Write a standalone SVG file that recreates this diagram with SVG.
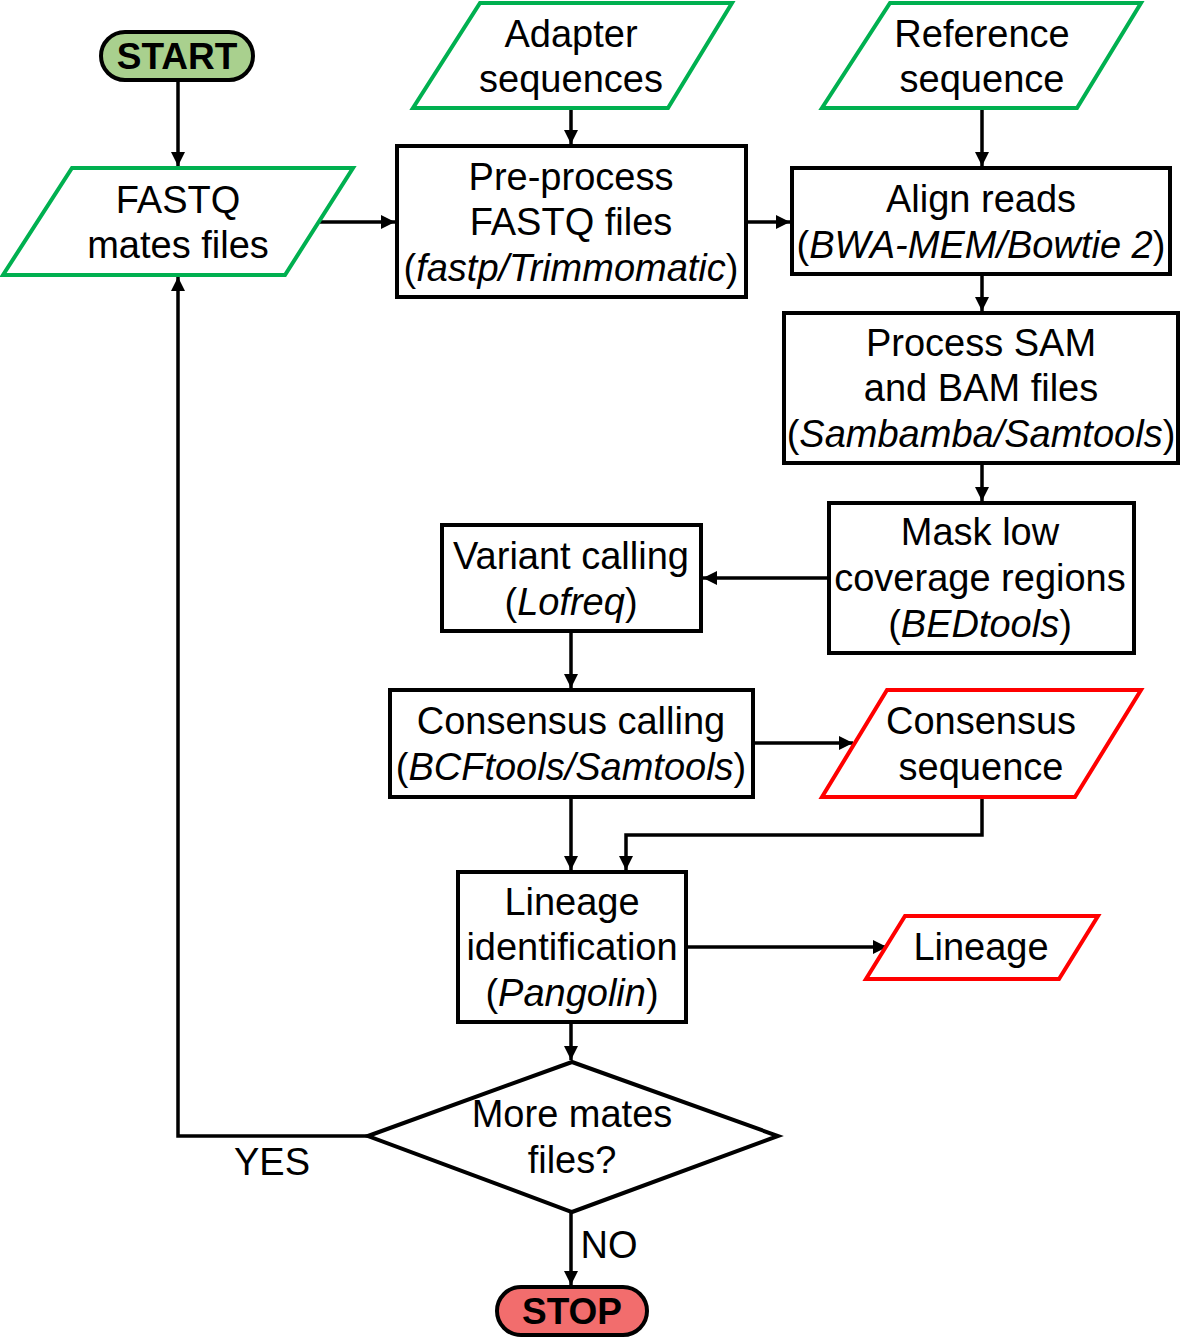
<svg xmlns="http://www.w3.org/2000/svg" width="1180" height="1337" viewBox="0 0 1180 1337">
<defs>
<marker id="arr" viewBox="0 0 10 10" refX="10" refY="5" markerWidth="4" markerHeight="4" orient="auto" markerUnits="strokeWidth">
<path d="M0,0 L10,5 L0,10 z" fill="#000"/>
</marker>
<style>
text{font-family:"Liberation Sans",Arial,sans-serif;font-size:38px;fill:#000;text-anchor:middle}
.b{font-weight:bold;font-size:37px}
.i{font-style:italic}
.box{fill:#fff;stroke:#000;stroke-width:4}
.in{fill:#fff;stroke:#00b050;stroke-width:4}
.out{fill:#fff;stroke:#ff0000;stroke-width:4}
.c{fill:none;stroke:#000;stroke-width:3.5}
</style>
</defs>
<rect width="1180" height="1337" fill="#fff"/>
<g id="connectors">
<path class="c" d="M178,80 V166" marker-end="url(#arr)"/>
<path class="c" d="M320,222 H395" marker-end="url(#arr)"/>
<path class="c" d="M571,108 V144" marker-end="url(#arr)"/>
<path class="c" d="M746,222 H790" marker-end="url(#arr)"/>
<path class="c" d="M982,108 V166" marker-end="url(#arr)"/>
<path class="c" d="M982,274 V311" marker-end="url(#arr)"/>
<path class="c" d="M982,463 V501" marker-end="url(#arr)"/>
<path class="c" d="M829,578 H703" marker-end="url(#arr)"/>
<path class="c" d="M571,631 V688" marker-end="url(#arr)"/>
<path class="c" d="M753,743 H853" marker-end="url(#arr)"/>
<path class="c" d="M571,797 V870" marker-end="url(#arr)"/>
<path class="c" d="M982,797 V835 H626 V870" marker-end="url(#arr)"/>
<path class="c" d="M686,947 H887" marker-end="url(#arr)"/>
<path class="c" d="M571,1022 V1060" marker-end="url(#arr)"/>
<path class="c" d="M368,1136 H178 V277" marker-end="url(#arr)"/>
<path class="c" d="M571,1212 V1285" marker-end="url(#arr)"/>
</g>
<g id="start">
<rect x="101" y="32" width="152" height="48" rx="24" fill="#a9d08e" stroke="#000" stroke-width="4"/>
<text class="b" x="177" y="69">START</text>
</g>
<g id="fastq">
<polygon class="in" points="72,168 353,168 285,275 3,275"/>
<text x="178" y="213">FASTQ</text>
<text x="178" y="258">mates files</text>
</g>
<g id="adapter">
<polygon class="in" points="480,3 732,3 668,108 413,108"/>
<text x="571" y="47">Adapter</text>
<text x="571" y="92">sequences</text>
</g>
<g id="reference">
<polygon class="in" points="890,3 1141,3 1077,108 822,108"/>
<text x="982" y="47">Reference</text>
<text x="982" y="92">sequence</text>
</g>
<g id="preprocess">
<rect class="box" x="397" y="146" width="349" height="151"/>
<text x="571" y="190">Pre-process</text>
<text x="571" y="235">FASTQ files</text>
<text x="571" y="281">(<tspan class="i">fastp/Trimmomatic</tspan>)</text>
</g>
<g id="align">
<rect class="box" x="792" y="168" width="378" height="106"/>
<text x="981" y="212">Align reads</text>
<text x="981" y="258">(<tspan class="i">BWA-MEM/Bowtie 2</tspan>)</text>
</g>
<g id="processsam">
<rect class="box" x="784" y="313" width="394" height="150"/>
<text x="981" y="356">Process SAM</text>
<text x="981" y="401">and BAM files</text>
<text x="981" y="447">(<tspan class="i">Sambamba/Samtools</tspan>)</text>
</g>
<g id="mask">
<rect class="box" x="829" y="503" width="305" height="150"/>
<text x="980" y="545">Mask low</text>
<text x="980" y="591">coverage regions</text>
<text x="980" y="637">(<tspan class="i">BEDtools</tspan>)</text>
</g>
<g id="variant">
<rect class="box" x="442" y="525" width="259" height="106"/>
<text x="571" y="569">Variant calling</text>
<text x="571" y="615">(<tspan class="i">Lofreq</tspan>)</text>
</g>
<g id="consensuscalling">
<rect class="box" x="390" y="690" width="363" height="107"/>
<text x="571" y="734">Consensus calling</text>
<text x="571" y="780">(<tspan class="i">BCFtools/Samtools</tspan>)</text>
</g>
<g id="consensusseq">
<polygon class="out" points="887,690 1141,690 1075,797 822,797"/>
<text x="981" y="734">Consensus</text>
<text x="981" y="780">sequence</text>
</g>
<g id="lineageid">
<rect class="box" x="458" y="872" width="228" height="150"/>
<text x="572" y="915">Lineage</text>
<text x="572" y="960">identification</text>
<text x="572" y="1006">(<tspan class="i">Pangolin</tspan>)</text>
</g>
<g id="lineage">
<polygon class="out" points="905,916 1098,916 1059,979 866,979"/>
<text x="981" y="960">Lineage</text>
</g>
<g id="decision">
<polygon class="box" points="368,1136 572,1062 778,1136 572,1212"/>
<text x="572" y="1127">More mates</text>
<text x="572" y="1173">files?</text>
</g>
<text x="272" y="1175">YES</text>
<text x="609" y="1258">NO</text>
<g id="stop">
<rect x="497" y="1287" width="150" height="48" rx="24" fill="#f26d6d" stroke="#000" stroke-width="4"/>
<text class="b" x="572" y="1324">STOP</text>
</g>
</svg>
